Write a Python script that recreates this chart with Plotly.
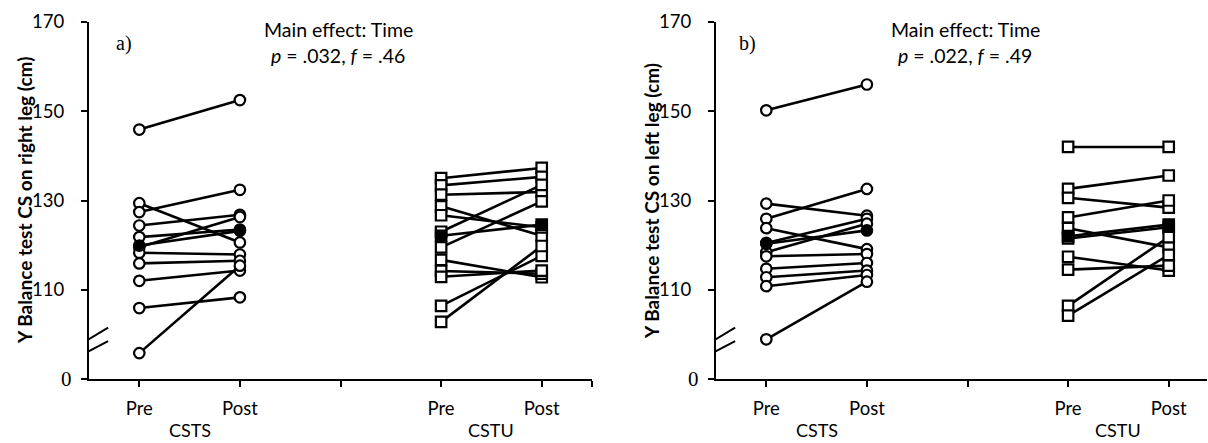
import plotly.graph_objects as go

W, H = 1208, 443

# ---------------- data ----------------
timepoints = ["Pre", "Post"]
groups = ["CSTS", "CSTU"]
group_x = {"CSTS": [1, 2], "CSTU": [4, 5]}

# Panel a) right leg
a_csts_pre = [145.9, 129.4, 127.4, 124.4, 121.8, 119.5, 118.3, 115.9, 112.0, 105.9, 95.8]
a_csts_post = [152.5, 120.6, 132.4, 126.8, 123.5, 126.3, 117.9, 116.5, 114.3, 108.3, 115.4]
a_csts_mean = [119.9, 123.2]
a_cstu_pre = [135.0, 133.4, 131.3, 128.7, 126.7, 123.0, 119.5, 116.7, 114.2, 112.9, 106.4, 102.8]
a_cstu_post = [137.3, 135.3, 131.9, 122.1, 124.0, 133.5, 129.8, 112.8, 113.6, 114.3, 117.6, 119.8]
a_cstu_mean = [122.1, 124.6]

# Panel b) left leg
b_csts_pre = [150.2, 129.3, 125.9, 123.8, 120.5, 118.4, 117.5, 114.7, 112.8, 110.8, 98.9]
b_csts_post = [156.0, 126.6, 132.6, 119.1, 125.9, 124.8, 118.0, 116.0, 114.3, 113.3, 111.8]
b_csts_mean = [120.3, 123.3]
b_cstu_pre = [142.0, 132.6, 130.6, 126.2, 123.8, 121.5, 117.4, 114.5, 106.4, 104.2]
b_cstu_post = [142.0, 135.6, 128.4, 130.0, 119.5, 124.0, 114.3, 115.4, 121.8, 117.8]
b_cstu_mean = [122.0, 124.6]

y_tickvals = [90, 110, 130, 150, 170]
y_ticktext = ["", "110", "130", "150", "170"]
y_titles = ["Y Balance test CS on right leg (cm)", "Y Balance test CS on left leg (cm)"]
panel_labels = ["a)", "b)"]
stat_lines = [
    ("Main effect: Time", "<i>p</i> = .032, <i>f</i> = .46"),
    ("Main effect: Time", "<i>p</i> = .022, <i>f</i> = .49"),
]

SANS = "Lato"
SERIF = "Liberation Serif"

panels = [
    dict(xa="x", ya="y", data={"CSTS": (a_csts_pre, a_csts_post, a_csts_mean),
                               "CSTU": (a_cstu_pre, a_cstu_post, a_cstu_mean)}),
    dict(xa="x2", ya="y2", data={"CSTS": (b_csts_pre, b_csts_post, b_csts_mean),
                                 "CSTU": (b_cstu_pre, b_cstu_post, b_cstu_mean)}),
]

fig = go.Figure()
for p in panels:
    for g in groups:
        pre, post, mean = p["data"][g]
        sym = "circle" if g == "CSTS" else "square"
        x0, x1 = group_x[g]
        for a, b in zip(pre, post):
            fig.add_trace(go.Scatter(
                x=[x0, x1], y=[a, b], mode="lines+markers",
                xaxis=p["xa"], yaxis=p["ya"], showlegend=False, hoverinfo="skip",
                line=dict(color="black", width=2.6),
                marker=dict(symbol=sym, size=10.5, color="white",
                            line=dict(color="black", width=2.2)),
            ))
        fig.add_trace(go.Scatter(
            x=[x0, x1], y=mean, mode="lines+markers",
            xaxis=p["xa"], yaxis=p["ya"], showlegend=False,
            line=dict(color="black", width=2.6),
            marker=dict(symbol=sym, size=10.5, color="black",
                        line=dict(color="black", width=2.2)),
        ))

# ---------------- layout ----------------
y_dom = [1 - 379 / H, 1 - 22 / H]
x_doms = [[89 / W, 592 / W], [716 / W, 1207 / W]]
x_ranges = [[0.5, 5.5], [0.5, 0.5 + (1207 - 716) / 100.6]]

axis_common = dict(showline=True, linecolor="black", linewidth=2, showgrid=False,
                   zeroline=False, ticks="outside", tickcolor="black", tickwidth=2,
                   ticklen=6, automargin=False,
                   tickfont=dict(family=SANS, size=18.5, color="black"))

layout = dict(width=W, height=H, margin=dict(l=0, r=0, t=0, b=0, pad=0),
              template="none",
              paper_bgcolor="white", plot_bgcolor="white", showlegend=False)

for i, (xn, yn) in enumerate([("xaxis", "yaxis"), ("xaxis2", "yaxis2")]):
    layout[xn] = dict(axis_common, domain=x_doms[i], range=x_ranges[i],
                      anchor="y" if i == 0 else "y2",
                      tickvals=[1, 2, 3, 4, 5, 5.5],
                      ticktext=["Pre", "Post", "", "Pre", "Post", ""],
                      ticklabelstandoff=6)
    layout[yn] = dict(axis_common, domain=y_dom, range=[90, 170],
                      anchor="x" if i == 0 else "x2",
                      tickvals=y_tickvals, ticktext=y_ticktext,
                      ticklabelstandoff=13)

fig.update_layout(**layout)

annotations = []
shapes = []
for i, p in enumerate(panels):
    x_pix0 = x_doms[i][0] * W
    # y-axis title
    annotations.append(dict(xref="paper", yref="paper", x=(x_pix0 - 65) / W, y=1 - 201 / H,
                            text=y_titles[i], textangle=-90, showarrow=False,
                            xanchor="center", yanchor="middle",
                            font=dict(family=SANS, size=19, color="black", weight="bold")))
    # serif "0" tick label for the broken axis
    annotations.append(dict(xref="paper", yref=p["ya"], x=(x_pix0 - 15) / W, y=90,
                            text="0", showarrow=False, xanchor="right", yanchor="middle",
                            font=dict(family=SERIF, size=21, color="black")))
    # panel letter
    annotations.append(dict(xref="paper", yref="paper", x=(x_pix0 + [25, 21][i]) / W,
                            y=1 - 44 / H, text=panel_labels[i], showarrow=False,
                            xanchor="left", yanchor="middle",
                            font=dict(family=SERIF, size=20, color="black")))
    # stats text
    cx = x_pix0 + 249
    annotations.append(dict(xref="paper", yref="paper", x=cx / W, y=1 - 30 / H,
                            text=stat_lines[i][0], showarrow=False,
                            xanchor="center", yanchor="middle",
                            font=dict(family=SANS, size=19.5, color="black")))
    annotations.append(dict(xref="paper", yref="paper", x=cx / W, y=1 - 55 / H,
                            text=stat_lines[i][1], showarrow=False,
                            xanchor="center", yanchor="middle",
                            font=dict(family=SANS, size=19.5, color="black")))
    # group labels
    for g in groups:
        gx = sum(group_x[g]) / 2
        annotations.append(dict(xref=p["xa"], yref="paper", x=gx, y=1 - 430 / H,
                                text=g, showarrow=False, xanchor="center", yanchor="middle",
                                borderpad=0,
                                font=dict(family=SANS, size=18, color="black")))
    # axis break marks
    for (ya0, ya1) in [(98.2, 101.5), (95.6, 98.5)]:
        shapes.append(dict(type="line", xref=p["xa"], yref=p["ya"],
                           x0=0.445, y0=ya0, x1=0.69, y1=ya1,
                           line=dict(color="black", width=2)))

fig.update_layout(annotations=annotations, shapes=shapes)
fig.write_html(
    "out.html",
    config={"displayModeBar": False},
    post_script="document.body.style.margin='0';document.body.style.overflow='hidden';",
)
